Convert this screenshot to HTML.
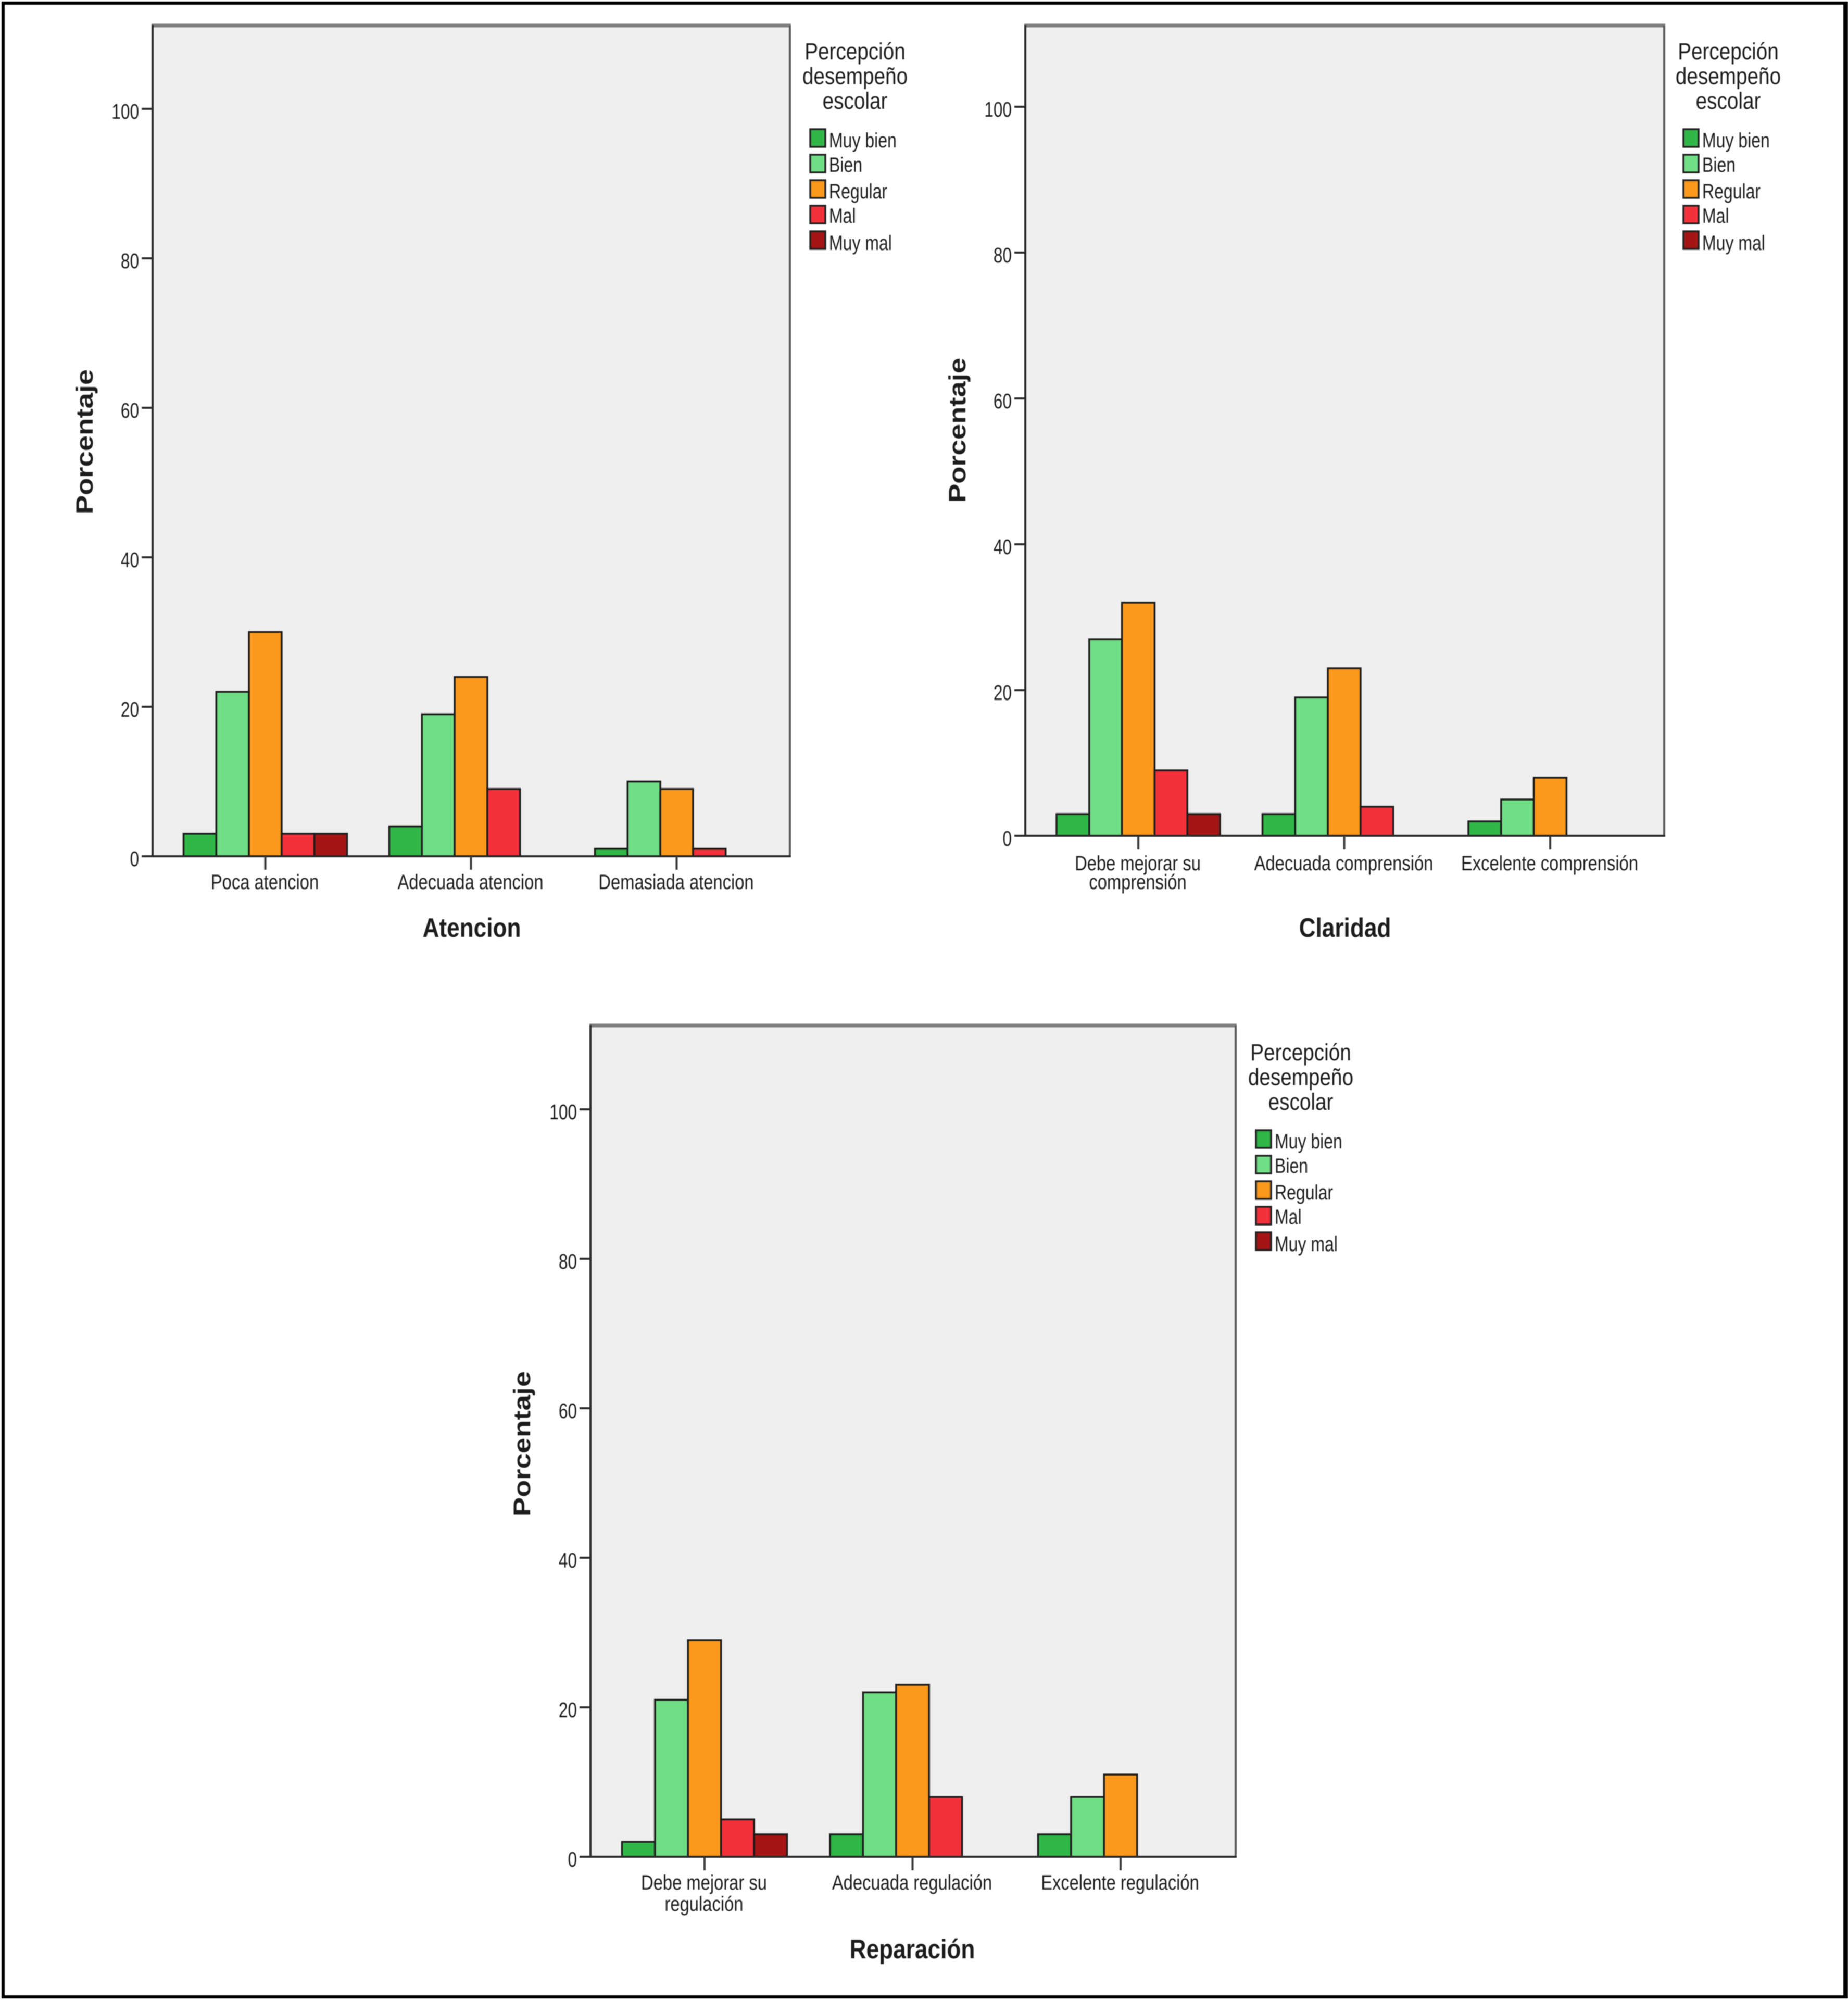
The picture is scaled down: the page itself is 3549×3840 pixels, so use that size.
<!DOCTYPE html>
<html lang="es">
<head>
<meta charset="utf-8">
<title>Percepción desempeño escolar</title>
<style>
html,body{margin:0;padding:0;background:#fff;}
svg{display:block;filter:blur(0.9px);}
text{font-family:"Liberation Sans",sans-serif;fill:#1c1c1c;}
</style>
</head>
<body>
<svg id="figure" xmlns="http://www.w3.org/2000/svg" width="3549" height="3840" viewBox="0 0 3549 3840"></svg>
<script>
const yTickLabels = [0, 20, 40, 60, 80, 100];
const seriesNames = ["Muy bien", "Bien", "Regular", "Mal", "Muy mal"];
const legendTitleLines = ["Percepción", "desempeño", "escolar"];

const atencionCategories = [["Poca atencion"], ["Adecuada atencion"], ["Demasiada atencion"]];
const atencionMuyBien = [3, 4, 1];
const atencionBien = [22, 19, 10];
const atencionRegular = [30, 24, 9];
const atencionMal = [3, 9, 1];
const atencionMuyMal = [3, 0, 0];

const claridadCategories = [["Debe mejorar su", "comprensión"], ["Adecuada comprensión"], ["Excelente comprensión"]];
const claridadMuyBien = [3, 3, 2];
const claridadBien = [27, 19, 5];
const claridadRegular = [32, 23, 8];
const claridadMal = [9, 4, 0];
const claridadMuyMal = [3, 0, 0];

const reparacionCategories = [["Debe mejorar su", "regulación"], ["Adecuada regulación"], ["Excelente regulación"]];
const reparacionMuyBien = [2, 3, 3];
const reparacionBien = [21, 22, 8];
const reparacionRegular = [29, 23, 11];
const reparacionMal = [5, 8, 0];
const reparacionMuyMal = [3, 0, 0];

const seriesColors = ["#30b748", "#70de84", "#fb991c", "#f2313b", "#a51515"];

const panels = [
  {key: "atencion", title: "Atencion", cats: atencionCategories,
   series: [atencionMuyBien, atencionBien, atencionRegular, atencionMal, atencionMuyMal],
   left: 293, right: 1517, top: 50, base: 1644, unit: 14.35,
   firstCenter: 509.5, catStep: 395, barW: 62.8, firstBaseline: 63, lineGap: 37,
   titleX: 906, titleY: 1799, yTitleX: 178, yTitleY: 848, legendDx: 0, legendDy: 0},
  {key: "claridad", title: "Claridad", cats: claridadCategories,
   series: [claridadMuyBien, claridadBien, claridadRegular, claridadMal, claridadMuyMal],
   left: 1969, right: 3196, top: 50, base: 1605, unit: 14.0,
   firstCenter: 2186, catStep: 395.5, barW: 62.8, firstBaseline: 66, lineGap: 36,
   titleX: 2583, titleY: 1799, yTitleX: 1854, yTitleY: 826, legendDx: 1677, legendDy: 0},
  {key: "reparacion", title: "Reparación", cats: reparacionCategories,
   series: [reparacionMuyBien, reparacionBien, reparacionRegular, reparacionMal, reparacionMuyMal],
   left: 1134, right: 2373, top: 1970, base: 3565, unit: 14.35,
   firstCenter: 1353, catStep: 399.5, barW: 63.4, firstBaseline: 63, lineGap: 41,
   titleX: 1752, titleY: 3760, yTitleX: 1018, yTitleY: 2772, legendDx: 856, legendDy: 1922}
];

const legendRowBaselineOffsets = [283, 330, 381, 428, 480];

const SVGNS = "http://www.w3.org/2000/svg";
const figure = document.getElementById("figure");

function makeRect(parent, x, y, w, h, fill, stroke, sw) {
  const el = document.createElementNS(SVGNS, "rect");
  el.setAttribute("x", x);
  el.setAttribute("y", y);
  el.setAttribute("width", w);
  el.setAttribute("height", h);
  el.setAttribute("fill", fill);
  if (stroke) {
    el.setAttribute("stroke", stroke);
    el.setAttribute("stroke-width", sw);
  }
  parent.appendChild(el);
  return el;
}

function makeLine(parent, x1, y1, x2, y2, color, sw) {
  const el = document.createElementNS(SVGNS, "line");
  el.setAttribute("x1", x1);
  el.setAttribute("y1", y1);
  el.setAttribute("x2", x2);
  el.setAttribute("y2", y2);
  el.setAttribute("stroke", color);
  el.setAttribute("stroke-width", sw);
  parent.appendChild(el);
  return el;
}

function makeText(parent, x, y, str, size, sx, anchor, weight, rot) {
  const el = document.createElementNS(SVGNS, "text");
  el.setAttribute("transform", "translate(" + x + "," + y + ")" + (rot ? " rotate(" + rot + ")" : "") + " scale(" + sx + ",1)");
  el.setAttribute("font-size", size);
  el.setAttribute("text-anchor", anchor);
  if (weight) {
    el.setAttribute("font-weight", weight);
  }
  el.textContent = str;
  parent.appendChild(el);
  return el;
}

function makeGroup(parent) {
  const el = document.createElementNS(SVGNS, "g");
  parent.appendChild(el);
  return el;
}

/* outer frame */
const frameTop = makeRect(figure, 3, 3, 3546, 6, "#000");


const frameBottom = makeRect(figure, 3, 3831, 3546, 6, "#000");


const frameLeft = makeRect(figure, 3, 3, 6, 3834, "#000");


const frameRight = makeRect(figure, 3540, 3, 9, 3834, "#000");



panels.forEach(function (p) {
  const yScale = function (v) { return p.base - v * p.unit; };
  const xCenter = function (c) { return p.firstCenter + c * p.catStep; };

  const chart = makeGroup(figure);
  
  

  const plot = makeRect(chart, p.left, p.top, p.right - p.left, p.base - p.top, "#efefef");
  
  

  /* bars */
  p.series.forEach(function (vals, s) {
    vals.forEach(function (v, c) {
      if (v <= 0) { return; }
      const bx = xCenter(c) + (s - 2.5) * p.barW;
      const bar = makeRect(chart, bx, yScale(v), p.barW, p.base - yScale(v), seriesColors[s], "#1c1c1c", 3.5);
      
      
    });
  });

  /* plot border */
  const borderTop = makeLine(chart, p.left - 2, p.top - 1, p.right + 2, p.top - 1, "#7f7f7f", 7);
  
  
  const borderRight = makeLine(chart, p.right, p.top - 1, p.right, p.base + 2, "#5a5a5a", 4);
  
  
  const yAxis = makeLine(chart, p.left, p.top - 2, p.left, p.base + 2, "#2a2a2a", 4);
  
  
  const xAxis = makeLine(chart, p.left, p.base, p.right + 2, p.base, "#2a2a2a", 4);
  
  

  /* y ticks */
  yTickLabels.forEach(function (t) {
    const tick = makeLine(chart, p.left - 21, yScale(t), p.left, yScale(t), "#2a2a2a", 4);
    
    
    const lab = makeText(chart, p.left - 26, yScale(t) + 19, String(t), 41, 0.77, "end");
    
    
  });

  /* x ticks and labels */
  p.cats.forEach(function (lines, c) {
    const tick = makeLine(chart, xCenter(c), p.base, xCenter(c), p.base + 26, "#3a3a3a", 4);
    
    
    lines.forEach(function (line, i) {
      const lab = makeText(chart, xCenter(c) - 1, p.base + p.firstBaseline + i * p.lineGap, line, 40, 0.818, "middle");
      
      
    });
  });

  /* axis titles */
  const xTitle = makeText(chart, p.titleX, p.titleY, p.title, 52, 0.85, "middle", "bold");
  
  
  const yTitle = makeText(chart, p.yTitleX, p.yTitleY, "Porcentaje", 45, 1.21, "middle", "bold", -90);
  
  

  /* legend */
  const legend = makeGroup(chart);
  
  
  legendTitleLines.forEach(function (line, i) {
    const lt = makeText(legend, 1642 + p.legendDx, 114 + i * 47.5 + p.legendDy, line, 45, 0.86, "middle");
    
    
  });
  seriesNames.forEach(function (name, s) {
    const swatchY = 248 + s * 49 + p.legendDy;
    const sw = makeRect(legend, 1556 + p.legendDx, swatchY, 29, 34, seriesColors[s], "#222", 3.5);
    
    
    const lab = makeText(legend, 1592 + p.legendDx, legendRowBaselineOffsets[s] + p.legendDy, name, 40, 0.8, "start");
    
    
  });
});
</script>
</body>
</html>
